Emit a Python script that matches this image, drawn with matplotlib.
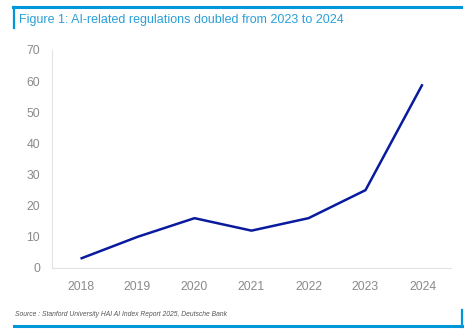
import matplotlib.pyplot as plt
from matplotlib.lines import Line2D

years = ['2018', '2019', '2020', '2021', '2022', '2023', '2024']
regulations = [3, 10, 16, 12, 16, 25, 59]
y_ticks = [0, 10, 20, 30, 40, 50, 60, 70]

title = 'Figure 1: AI-related regulations doubled from 2023 to 2024'
source = 'Source : Stanford University HAI AI Index Report 2025, Deutsche Bank'

plt.rcParams['font.family'] = ['Liberation Sans', 'DejaVu Sans']
W, H = 470, 333
fig = plt.figure(figsize=(W / 100, H / 100), dpi=100)
ax = fig.add_axes([52 / W, 1 - 268 / H, (451 - 52) / W, (268 - 50) / H])

x = range(len(years))
ax.plot(x, regulations, color='#0A1A9E', lw=1.8, solid_capstyle='butt')
ax.set_xlim(-0.5, len(years) - 0.5)
ax.set_ylim(0, 70)
ax.set_xticks(list(x))
ax.set_xticklabels(years)
ax.set_yticks(y_ticks)
ax.tick_params(length=0, colors='#8a8a8a', labelsize=8.8)
ax.tick_params(axis='x', pad=9)
ax.tick_params(axis='y', pad=8.5)
for s in ['top', 'right']:
    ax.spines[s].set_visible(False)
for s in ['left', 'bottom']:
    ax.spines[s].set_color('#e3e3e3')
    ax.spines[s].set_linewidth(0.8)

# frame decoration
blue = '#0096DA'
tf = fig.transFigure
fig.add_artist(Line2D([13 / W, 461 / W], [1 - 7 / H] * 2, color=blue, lw=2.2, transform=tf))
fig.add_artist(Line2D([14 / W] * 2, [1 - 7 / H, 1 - 28 / H], color=blue, lw=1.6, transform=tf))
fig.add_artist(Line2D([14 / W, 462 / W], [1 - 325.5 / H] * 2, color=blue, lw=2.2, transform=tf))
fig.add_artist(Line2D([461.5 / W] * 2, [1 - 310 / H, 1 - 326.5 / H], color=blue, lw=1.6, transform=tf))

fig.text(19 / W, 1 - 20 / H, title, color='#2a9fd8', fontsize=9.0, va='center', ha='left')
fig.text(15 / W, 1 - 315 / H, source, color='#555555', fontsize=4.9, style='italic', va='center', ha='left')

fig.savefig('out.png', dpi=100)
